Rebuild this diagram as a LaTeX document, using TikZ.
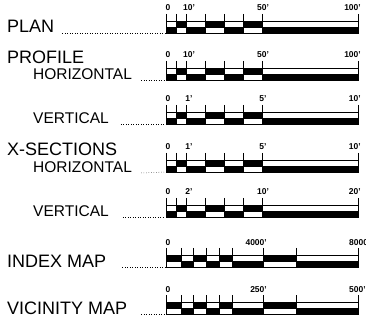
\documentclass[tikz,border=0pt]{standalone}
\usepackage{fontspec}
\setmainfont{Liberation Sans}
\newcommand\sbarA[6]{% name, bottom y, labels 0, second, middle, end
  \begin{scope}[shift={(0,#2)}]
    \coordinate (#1) at (165,0);
    \fill (176,-12) rectangle (186,-6);
    \fill (205,-12) rectangle (224,-6);
    \fill (243,-12) rectangle (262,-6);
    \fill (166,-6) rectangle (176,0);
    \fill (186,-6) rectangle (205,0);
    \fill (224,-6) rectangle (243,0);
    \fill (262,-6) rectangle (358,0);
    \draw[barline] (166,-12) rectangle (358,0);
    \draw[barline] (166,-6) -- (358,-6);
    \foreach \x in {166,176,186,205,224,243,262,358}
      \draw[barline] (\x,-19) -- (\x,0);
    \node[num] (#1n0) at (168,-22) {#3};
    \node[num] (#1n1) at (189,-22) {#4};
    \node[num] (#1n2) at (263,-22) {#5};
    \node[num,anchor=base east] (#1n3) at (361,-22) {#6};
  \end{scope}}
\newcommand\sbarB[5]{% name, bottom y, labels 0, middle, end
  \begin{scope}[shift={(0,#2)}]
    \coordinate (#1) at (165,0);
    \fill (166,-12) rectangle (181,-6);
    \fill (193,-12) rectangle (206,-6);
    \fill (219,-12) rectangle (232,-6);
    \fill (263,-12) rectangle (296,-6);
    \fill (181,-6) rectangle (193,0);
    \fill (206,-6) rectangle (219,0);
    \fill (232,-6) rectangle (263,0);
    \fill (296,-6) rectangle (358,0);
    \draw[barline] (166,-12) rectangle (358,0);
    \draw[barline] (166,-6) -- (358,-6);
    \foreach \x in {166,181,193,206,219,232,263,296,358}
      \draw[barline] (\x,-19) -- (\x,0);
    \node[num] (#1n0) at (168,-22) {#3};
    \node[num,anchor=base east] (#1n2) at (267,-22) {#4};
    \node[num,anchor=base west] (#1n3) at (349,-22) {#5};
  \end{scope}}
\begin{document}
\begin{tikzpicture}[x=1pt,y=-1pt,
  big/.style={font=\fontsize{18}{18}\selectfont, inner sep=0pt, anchor=base west},
  small/.style={font=\fontsize{15.5}{16}\selectfont, inner sep=0pt, anchor=base west},
  num/.style={font=\fontsize{8.5}{8.5}\selectfont\bfseries, inner sep=0pt, anchor=base},
  leader/.style={dotted, line width=0.5pt},
  barline/.style={line width=0.7pt}]
\useasboundingbox (0,0) rectangle (366,328);
\fill[white] (0,0) rectangle (366,328);

% Row 1: PLAN
\sbarA{r1}{33}{0}{10'}{50'}{100'}
\node[big] (plan) at (7,33) {PLAN};
\draw[leader] ([xshift=8pt]plan.base east) -- (r1);

% Row 2: PROFILE HORIZONTAL
\sbarA{r2}{80}{0}{10'}{50'}{100'}
\node[big] (profile) at (7,64) {PROFILE};
\node[small] (profh) at (33,80) {HORIZONTAL};
\draw[leader] ([xshift=9pt]profh.base east) -- (r2);

% Row 3: VERTICAL
\sbarA{r3}{124}{0}{1'}{5'}{10'}
\node[small] (profv) at (33,124) {VERTICAL};
\draw[leader] ([xshift=12pt]profv.base east) -- (r3);

% Row 4: X-SECTIONS HORIZONTAL
\sbarA{r4}{172}{0}{1'}{5'}{10'}
\node[big] (xsec) at (7,156) {X-SECTIONS};
\node[small] (xsech) at (33,173) {HORIZONTAL};
\draw[leader] ([xshift=9pt]xsech.base east) -- (r4);

% Row 5: VERTICAL
\sbarA{r5}{217}{0}{2'}{10'}{20'}
\node[small] (xsecv) at (33,217) {VERTICAL};
\draw[leader] ([xshift=14pt]xsecv.base east) -- (r5);

% Row 6: INDEX MAP
\sbarB{r6}{267}{0}{4000'}{8000'}
\node[big] (index) at (7,267) {INDEX MAP};
\draw[leader] ([xshift=16pt]index.base east) -- (r6);

% Row 7: VICINITY MAP
\sbarB{r7}{314}{0}{250'}{500'}
\node[big] (vicinity) at (7,314) {VICINITY MAP};
\draw[leader] ([xshift=14pt]vicinity.base east) -- (r7);
\end{tikzpicture}
\end{document}
